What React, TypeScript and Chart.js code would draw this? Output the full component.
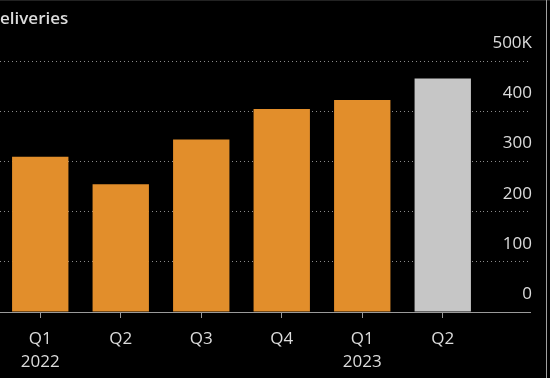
import React, { useEffect, useRef } from "react";
import { Chart, registerables } from "chart.js";

Chart.register(...registerables);

const title = "eliveries";
const quarters: (string | string[])[] = [["Q1", "2022"], "Q2", "Q3", "Q4", ["Q1", "2023"], "Q2"];
const deliveriesK = [310, 255, 344, 405, 423, 466];
const barColors = ["#E28E2B", "#E28E2B", "#E28E2B", "#E28E2B", "#E28E2B", "#C6C6C6"];
const yTicksMax = 500;
const yStep = 100;

const FONT = "'Open Sans', 'DejaVu Sans', sans-serif";
const GRID = "#8a8a8a";
const AXIS = "#9a9a9a";
const TEXT = "#dcdcdc";

export default function App() {
  const ref = useRef<HTMLCanvasElement | null>(null);

  useEffect(() => {
    document.body.style.margin = "0";
    document.body.style.background = "#000";
    const canvas = ref.current;
    if (!canvas) return;
    const chart = new Chart(canvas, {
      type: "bar",
      data: {
        labels: quarters,
        datasets: [
          {
            data: deliveriesK,
            backgroundColor: barColors,
            borderWidth: 0,
            barPercentage: 0.7,
            categoryPercentage: 1,
          },
        ],
      },
      options: {
        animation: false,
        responsive: false,
        maintainAspectRatio: false,
        layout: { padding: { left: 0, right: 0, top: 0, bottom: 0 } },
        plugins: {
          legend: { display: false },
          tooltip: { enabled: false },
          title: {
            display: true,
            text: title,
            align: "start",
            color: TEXT,
            font: { family: FONT, size: 17, weight: "600", lineHeight: 1.2 },
            padding: { top: 9, bottom: 32 },
          },
        },
        scales: {
          x: {
            afterFit: (scale: any) => {
              scale.height = 66;
            },
            grid: {
              display: true,
              drawOnChartArea: false,
              drawTicks: true,
              tickLength: 6,
              tickColor: AXIS,
              offset: false,
            },
            border: { display: true, color: AXIS, width: 1 },
            ticks: {
              color: TEXT,
              font: { family: FONT, size: 17, lineHeight: 23 / 17 },
              padding: 10,
              maxRotation: 0,
              autoSkip: false,
            },
          },
          y: {
            position: "right",
            min: 0,
            max: yTicksMax,
            afterFit: (scale: any) => {
              scale.width = 67;
            },
            border: { display: false, dash: [1, 3] },
            grid: {
              color: (ctx: any) => (ctx.tick && ctx.tick.value === 0 ? "rgba(0,0,0,0)" : GRID),
              lineWidth: 1,
              drawTicks: true,
              tickLength: 48,
              tickColor: (ctx: any) => (ctx.tick && ctx.tick.value === 0 ? AXIS : GRID),
              tickBorderDash: (ctx: any) => (ctx.tick && ctx.tick.value === 0 ? [] : [1, 3]),
            },
            ticks: {
              stepSize: yStep,
              mirror: true,
              padding: 49,
              labelOffset: -18,
              color: TEXT,
              font: { family: FONT, size: 17 },
              callback: (v: any) => (Number(v) === yTicksMax ? `${v}K` : `${v}`),
            },
          },
        },
      },
    });
    return () => chart.destroy();
  }, []);

  return (
    <div style={{ position: "relative", width: 550, height: 378, background: "#000", overflow: "hidden" }}>
      <canvas ref={ref} width={550} height={378} style={{ display: "block" }} />
      <div style={{ position: "absolute", left: 0, top: 0, width: 550, height: 1, background: "#222" }} />
      <div style={{ position: "absolute", left: 546, top: 0, width: 1, height: 378, background: "#a0a0a0" }} />
    </div>
  );
}
